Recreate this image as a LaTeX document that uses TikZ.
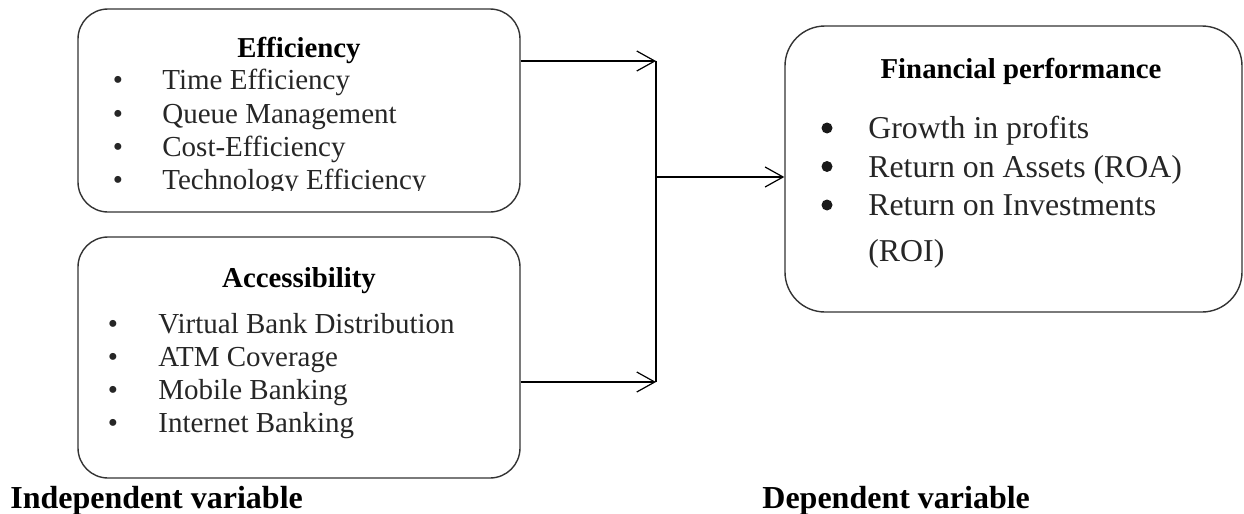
\documentclass[tikz,border=0pt]{standalone}
\usepackage{fontspec}
\setmainfont{Liberation Serif}
\usetikzlibrary{arrows.meta}

\begin{document}
\begin{tikzpicture}[x=0.5pt, y=-0.5pt,
  box/.style={draw=black!80, line width=0.7pt, rounded corners=15pt, inner sep=0pt},
  head/.style={anchor=base, inner sep=0pt, font=\fontsize{14.4}{16}\selectfont\bfseries},
  item/.style={anchor=base west, inner sep=0pt, text=black!85, font=\fontsize{14.5}{16}\selectfont},
  dot/.style={anchor=base, inner sep=0pt, text=black!85, font=\fontsize{14.5}{16}\selectfont},
  bigitem/.style={item, font=\fontsize{15.9}{18}\selectfont},
  bigdot/.style={circle, fill=black!90, inner sep=0pt, minimum size=5.5pt},
  side/.style={anchor=base west, inner sep=0pt, font=\fontsize{16}{18}\selectfont\bfseries},
  link/.style={line width=0.6pt, -{Straight Barb[length=9pt, width=10pt]}}]
  \useasboundingbox (0,0) rectangle (1244,514);

  \node[box, minimum width=221pt, minimum height=101.5pt] (eff) at (299,110.5) {};
  \node[box, minimum width=221pt, minimum height=120.5pt] (acc) at (299,357.5) {};
  \node[box, rounded corners=20pt, minimum width=228.5pt, minimum height=143pt] (fin) at (1013.5,169) {};

  \node[head] (effhead) at (299,57) {Efficiency};
  \begin{scope}
    \clip (78,9) rectangle (520,190);
    \foreach \txt [count=\i] in {Time Efficiency, Queue Management, Cost-Efficiency, Technology Efficiency} {
      \node[dot] (effdot\i) at (118,{57+33*\i}) {•};
      \node[item] (effitem\i) at (162,{57+33*\i}) {\txt};
    }
  \end{scope}

  \node[head] (acchead) at (299,287) {Accessibility};
  \foreach \txt [count=\i] in {Virtual Bank Distribution, ATM Coverage, Mobile Banking, Internet Banking} {
    \node[dot] (accdot\i) at (113,{300+33*\i}) {•};
    \node[item] (accitem\i) at (158,{300+33*\i}) {\txt};
  }

  \node[head] (finhead) at (1021,78) {Financial performance};
  \foreach \txt [count=\i] in {Growth in profits, Return on Assets (ROA), Return on Investments} {
    \node[bigdot] (findot\i) at (827,{89.5+38.5*\i}) {};
    \node[bigitem] (finitem\i) at (868,{100+38.5*\i}) {\txt};
  }
  \node[bigitem] (finitem4) at (868,261) {(ROI)};

  \coordinate (top) at (656,61);
  \coordinate (bot) at (656,382);
  \coordinate (mid) at (656,177);
  \draw[link] (eff.east |- top) -- (top);
  \draw[link] (acc.east |- bot) -- (bot);
  \draw[line width=0.6pt] (top) -- (bot);
  \draw[link] (mid) -- (fin.west |- mid);

  \node[side] (indep) at (10,508) {Independent variable};
  \node[side] (dep) at (762,508) {Dependent variable};
\end{tikzpicture}
\end{document}
